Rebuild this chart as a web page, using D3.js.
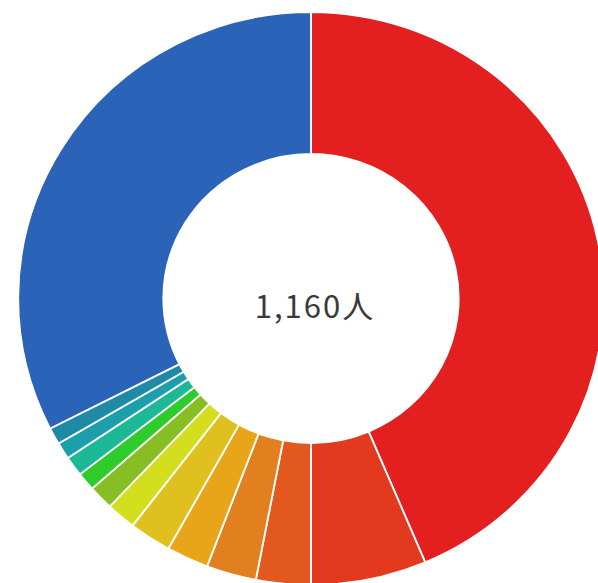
<!DOCTYPE html>
<html>
<head>
<meta charset="utf-8">
<script src="https://cdn.jsdelivr.net/npm/d3@7"></script>
<style>
  html, body { margin: 0; padding: 0; background: #fff; }
</style>
</head>
<body>
<svg id="chart"></svg>
<script>
// slices clockwise from 12 o'clock
const categories = ["区分1", "区分2", "区分3", "区分4", "区分5", "区分6", "区分7",
  "区分8", "区分9", "区分10", "区分11", "区分12", "区分13"];
const values = [506, 74, 35, 32, 27, 27, 19, 16, 12, 13, 11, 11, 377];
const colors = ["#e31f1f", "#e2391f", "#e3581e", "#e28020", "#e9a519", "#dfc01e",
  "#d3df1e", "#86be24", "#2ecc2a", "#1db896", "#1c9eab", "#1f8aa6", "#2a63b8"];
const totalLabel = "1,160人";

const width = 598, height = 583;
const cx = 311, cy = 298.5;
const outerR = 286.5, innerR = 144.5;
const sx = 1.022; // the reference is a bit wider than tall

const svg = d3.select("#chart")
  .attr("width", width)
  .attr("height", height);

const pie = d3.pie().sort(null).value(d => d.value);
const arc = d3.arc().innerRadius(innerR).outerRadius(outerR);

const color = d3.scaleOrdinal().domain(categories).range(colors);

const data = categories.map((c, i) => ({ name: c, value: values[i] }));

const g = svg.append("g")
  .attr("transform", `translate(${cx},${cy}) scale(${sx},1)`);

g.selectAll("path")
  .data(pie(data))
  .join("path")
  .attr("d", arc)
  .attr("fill", d => color(d.data.name))
  .attr("stroke", "#fff")
  .attr("stroke-width", 1.8);

svg.append("text")
  .attr("x", cx + 4)
  .attr("y", cy + 19)
  .attr("text-anchor", "middle")
  .attr("font-family", "'Noto Sans CJK JP', 'Noto Sans', sans-serif")
  .attr("font-size", 31)
  .attr("letter-spacing", 2)
  .attr("fill", "#3a3a3a")
  .text(totalLabel);
</script>
</body>
</html>
